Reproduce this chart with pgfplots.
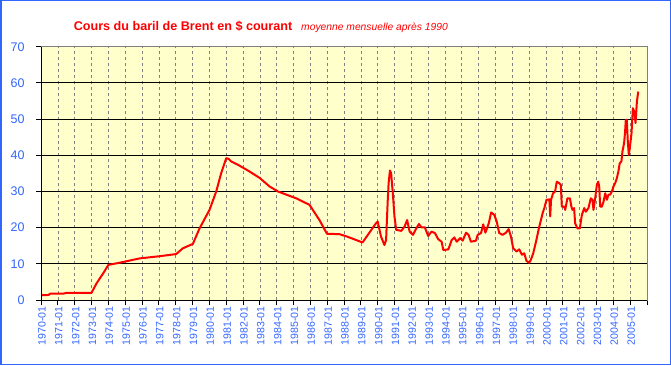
\documentclass[border=0pt]{standalone}
\usepackage{pgfplots}
\pgfplotsset{compat=1.18}
\usepackage{fontspec}
\setmainfont{Liberation Sans}
\definecolor{ttl}{HTML}{FF0000}
\definecolor{lbl}{HTML}{3366FF}
\definecolor{bg}{HTML}{FFFFCC}
\begin{document}
\begin{tikzpicture}[x=1pt,y=1pt]
\path[use as bounding box] (0,0) rectangle (671,365);
\draw[lbl, line width=1.5pt] (0.75,0.75) rectangle (670.25,364.25);
\node[anchor=base, text=ttl, inner sep=0pt, font=\bfseries\fontsize{12.6}{15}\selectfont] at (183,334) {Cours du baril de Brent en \$ courant};
\node[anchor=base, text=ttl, inner sep=0pt, font=\itshape\fontsize{10.3}{12}\selectfont] at (374.5,334) {moyenne mensuelle après 1990};
\begin{axis}[
  at={(41pt,65pt)}, anchor=south west,
  scale only axis, width=606pt, height=253.3pt,
  xmin=1970, xmax=2006, ymin=0, ymax=70,
  axis background/.style={fill=bg},
  axis line style={gray, line width=0.8pt},
  xtick={1970,...,2006},
  ytick={0,10,...,70},
  xticklabel={\pgfmathtruncatemacro\yr{round(\tick)}\ifnum\yr<2006 \yr-01\fi},
  xticklabel style={rotate=90, anchor=east, text=lbl, font=\fontsize{10.6}{12}\selectfont, inner sep=1pt, yshift=-1pt},
  yticklabel style={text=lbl, font=\fontsize{12.5}{14}\selectfont, xshift=-8pt},
  /pgf/number format/assume math mode=true,
  tick align=outside, major tick length=5pt,
  tick style={black, line width=0.8pt},
  xtick pos=bottom, ytick pos=left,
  xmajorgrids, ymajorgrids,
  major x grid style={gray, dashed, line width=0.6pt},
  major y grid style={black, line width=0.8pt},
  after end axis/.code={
    \draw[black, line width=1pt] (rel axis cs:0,1) -- (rel axis cs:0,0) -- (rel axis cs:1,0);
  },
]
\addplot[red, line width=2pt, line join=round] table {
1970.0 1.3
1970.45 1.4
1970.55 1.75
1971.4 1.8
1971.5 2.0
1973.0 2.0
1973.3 4.6
1973.7 7.4
1974.0 9.7
1974.67 10.3
1975.86 11.5
1977.04 12.1
1978.03 12.7
1978.43 14.3
1979.02 15.5
1979.42 19.8
1980.01 24.9
1980.41 30.0
1980.70 35.0
1981.0 39.2
1981.15 39.0
1981.3 38.3
1981.69 37.4
1982.39 35.5
1983.0 33.7
1983.57 31.4
1984.07 30.0
1985.16 28.1
1985.95 26.3
1986.54 22.1
1986.99 18.3
1987.73 18.2
1988.2 17.5
1989.1 15.9
1989.9 21.2
1990.0 21.7
1990.2 17.5
1990.4 15.2
1990.5 16.6
1990.6 27.7
1990.65 32.3
1990.73 35.8
1990.8 35.0
1990.9 29.5
1991.0 23.0
1991.1 19.4
1991.4 19.1
1991.6 20.3
1991.75 22.1
1991.9 18.9
1992.1 18.0
1992.25 19.4
1992.45 21.0
1992.6 20.1
1992.8 20.1
1993.0 17.7
1993.2 18.9
1993.4 18.5
1993.6 16.8
1993.8 16.1
1993.9 13.8
1994.2 14.0
1994.4 16.6
1994.55 17.3
1994.7 16.1
1994.9 17.1
1995.05 16.4
1995.25 18.6
1995.4 18.0
1995.54 16.1
1995.84 16.4
1995.94 18.0
1996.14 18.5
1996.27 20.9
1996.4 18.6
1996.6 21.2
1996.74 24.2
1996.93 23.5
1997.07 21.7
1997.22 18.5
1997.42 18.0
1997.62 18.6
1997.78 19.6
1997.92 17.5
1998.05 14.3
1998.25 13.4
1998.41 14.0
1998.57 12.5
1998.71 12.9
1998.84 10.8
1999.0 10.3
1999.1 11.1
1999.24 12.9
1999.43 16.6
1999.6 20.3
1999.7 22.1
1999.8 24.0
1999.9 25.4
2000.03 27.7
2000.2 27.8
2000.25 23.1
2000.3 27.7
2000.42 29.5
2000.54 30.0
2000.64 32.7
2000.78 32.3
2000.88 31.8
2000.94 25.8
2001.08 25.8
2001.14 24.9
2001.27 28.1
2001.42 28.1
2001.51 25.8
2001.57 24.9
2001.67 25.4
2001.73 21.2
2001.87 19.8
2002.01 19.8
2002.13 23.5
2002.27 25.4
2002.37 24.4
2002.52 25.4
2002.66 28.1
2002.76 27.7
2002.82 24.9
2002.92 28.1
2003.02 31.8
2003.1 32.7
2003.16 31.4
2003.22 25.8
2003.32 25.8
2003.42 27.2
2003.52 29.5
2003.62 27.7
2003.71 29.1
2003.81 29.1
2003.91 30.0
2004.01 31.4
2004.11 32.3
2004.21 33.7
2004.3 35.5
2004.38 37.8
2004.48 38.3
2004.54 41.0
2004.64 43.4
2004.7 46.6
2004.74 49.8
2004.8 49.8
2004.86 43.8
2004.92 40.1
2005.0 42.9
2005.08 46.1
2005.16 53.0
2005.24 52.1
2005.32 48.9
2005.4 54.9
2005.48 57.6
};
\end{axis}
\end{tikzpicture}
\end{document}
